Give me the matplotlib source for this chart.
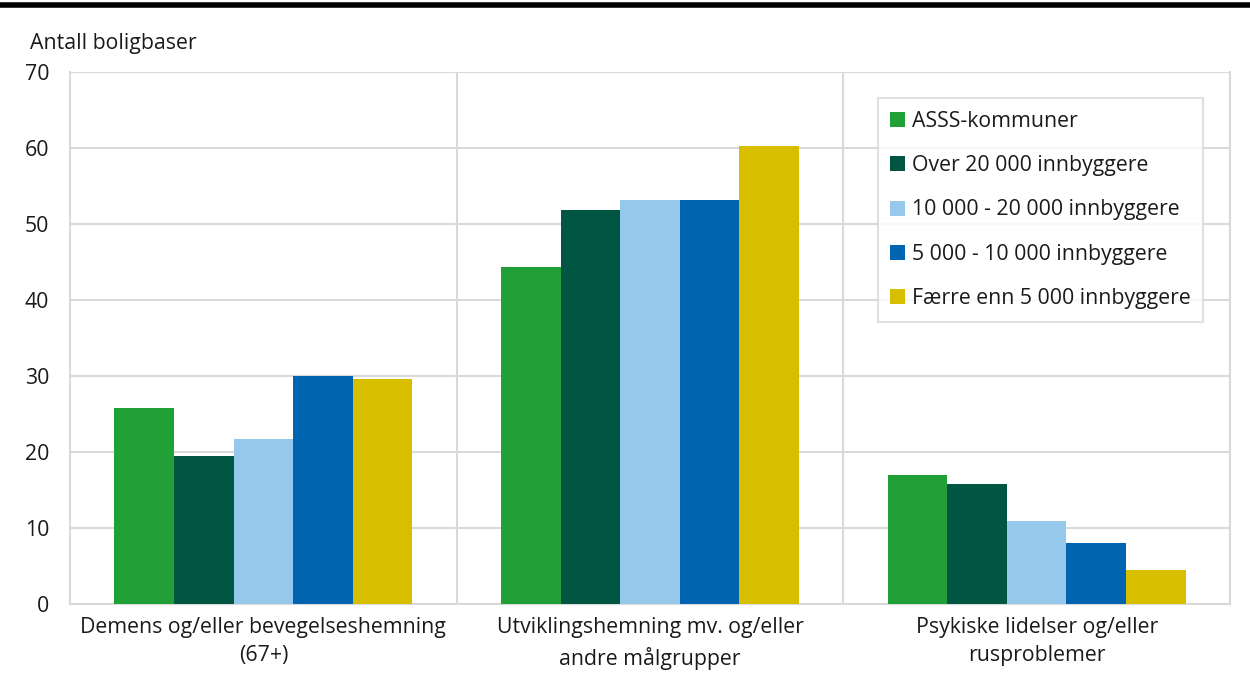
import matplotlib
matplotlib.use("Agg")
import matplotlib.pyplot as plt
import numpy as np

plt.rcParams['font.family'] = ['Open Sans', 'DejaVu Sans']

categories = ["Demens og/eller bevegelseshemning\n(67+)",
              "Utviklingshemning mv. og/eller\nandre målgrupper",
              "Psykiske lidelser og/eller\nrusproblemer"]
series_names = ["ASSS-kommuner", "Over 20 000 innbyggere", "10 000 - 20 000 innbyggere",
                "5 000 - 10 000 innbyggere", "Færre enn 5 000 innbyggere"]
asss = [25.8, 44.3, 17.0]
over20k = [19.5, 51.8, 15.8]
k10_20 = [21.7, 53.2, 10.9]
k5_10 = [30.0, 53.2, 8.0]
under5k = [29.6, 60.3, 4.5]
series_values = [asss, over20k, k10_20, k5_10, under5k]
colors = ["#21a038", "#005543", "#96c8eb", "#0064b0", "#d7bf00"]
yticks = [0, 10, 20, 30, 40, 50, 60, 70]

FS = 15.3
fig = plt.figure(figsize=(12.5, 6.73), dpi=100)
ax = fig.add_axes([70/1250, 1-604/673, 1160/1250, 532/673])

x = np.arange(len(categories))
bw = 0.154
n = len(series_values)
for i, (vals, name, c) in enumerate(zip(series_values, series_names, colors)):
    ax.bar(x + (i - (n-1)/2) * bw, vals, width=bw, color=c, label=name, zorder=3)

grid_c = "#d9d9d9"
ax.set_xlim(-0.5, 2.5)
ax.set_ylim(0, 70)
ax.set_yticks(yticks)
ax.set_xticks(x)
ax.set_xticklabels(categories, fontsize=FS, color="#1a1a1a", linespacing=1.5)
ax.tick_params(axis='both', length=0, labelsize=FS, colors="#1a1a1a")
ax.tick_params(axis='y', pad=15)
ax.tick_params(axis='x', pad=9)
ax.yaxis.grid(True, color=grid_c, linewidth=1.5, zorder=0)
for xs in [0.5, 1.5]:
    ax.axvline(xs, color=grid_c, linewidth=1.5, zorder=0)
for s in ['left', 'right', 'bottom', 'top']:
    ax.spines[s].set_color(grid_c)
    ax.spines[s].set_linewidth(1.5)
ax.spines['top'].set_visible(False)

leg = ax.legend(loc='upper right', bbox_to_anchor=((1203-70)/1160, (604-98)/532),
                fontsize=FS, frameon=True, fancybox=False, edgecolor=grid_c,
                handlelength=0.7, handleheight=0.7, handletextpad=0.3,
                labelspacing=1.1, borderpad=0.6, borderaxespad=0)
leg.get_frame().set_linewidth(1.5)
for t in leg.get_texts():
    t.set_color("#1a1a1a")

fig.text(30/1250, 1-43/673, "Antall boligbaser", fontsize=FS, color="#1a1a1a", va='center', ha='left')
fig.add_artist(plt.Line2D([0, 1], [1-5/673, 1-5/673], color='black', linewidth=4, transform=fig.transFigure))

fig.savefig("out.png", dpi=100)
